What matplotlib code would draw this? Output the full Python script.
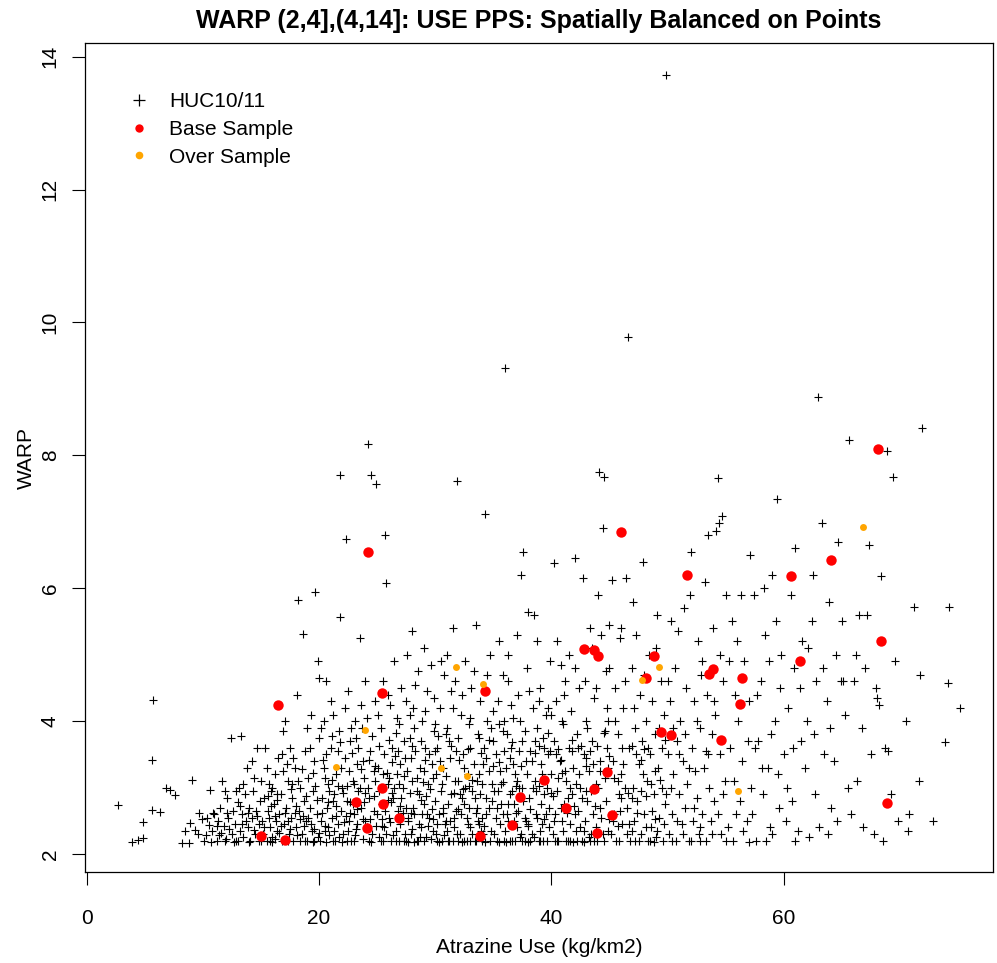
import numpy as np
from matplotlib import pyplot as plt
from matplotlib.lines import Line2D

plt.rcParams['font.family'] = ['Liberation Sans', 'DejaVu Sans']

title = "WARP (2,4],(4,14]: USE PPS: Spatially Balanced on Points"
x_label = "Atrazine Use (kg/km2)"
y_label = "WARP"
legend_labels = ["HUC10/11", "Base Sample", "Over Sample"]
x_ticks = [0, 20, 40, 60]
y_ticks = [2, 4, 6, 8, 10, 12, 14]

# HUC10/11 points (atrazine use, WARP)
huc_points = [
    (2.7, 2.74), (3.9, 2.18), (4.4, 2.21), (4.9, 2.24), (4.9, 2.48), (5.6, 2.66), (6.3, 2.63), (5.6, 3.41),
    (5.7, 4.32), (6.8, 2.99), (7.2, 2.96), (7.6, 2.89), (8.2, 2.17), (8.8, 2.17), (8.9, 2.47), (9.1, 3.11),
    (9.3, 2.36), (9.6, 2.3), (9.9, 2.52), (9.7, 2.62), (8.5, 2.35),
    # 10-15
    (10.1, 2.2), (10.3, 2.28), (10.5, 2.43), (10.6, 2.97), (10.8, 2.35), (11.0, 2.6), (11.2, 2.19), (11.3, 2.5),
    (11.5, 2.7), (11.6, 2.32), (11.8, 2.42), (12.0, 2.22), (12.1, 2.85), (12.2, 2.55), (12.4, 3.75), (12.5, 2.3),
    (12.6, 2.65), (12.8, 2.45), (12.9, 2.2), (13.0, 2.78), (13.1, 3.0), (13.2, 2.35), (13.3, 3.78), (13.4, 2.6),
    (13.5, 2.25), (13.6, 2.9), (13.7, 2.5), (13.8, 3.3), (13.9, 2.4), (14.0, 2.7), (14.1, 2.2), (14.2, 2.55),
    (14.3, 2.95), (14.4, 3.15), (14.5, 2.3), (14.6, 2.65), (14.7, 3.6), (14.8, 2.45), (14.9, 2.8), (15.0, 3.1),
    (11.9, 2.95), (12.3, 2.38), (13.5, 3.05), (14.2, 3.4), (10.9, 2.62), (11.4, 2.28), (12.7, 2.18), (13.9, 2.62),
    (14.4, 2.36), (10.4, 2.55), (11.7, 3.1), (13.2, 2.72), (14.8, 2.2), (12.9, 2.95),
    # 15-20
    (15.1, 2.5), (15.2, 2.3), (15.3, 2.85), (15.4, 3.6), (15.5, 2.2), (15.6, 2.65), (15.7, 3.05), (15.8, 2.4),
    (15.9, 2.95), (16.0, 2.25), (16.1, 2.75), (16.2, 3.2), (16.3, 2.5), (16.4, 2.35), (16.5, 3.45), (16.6, 2.6),
    (16.7, 2.9), (16.8, 2.2), (16.9, 3.85), (17.0, 2.45), (17.1, 4.0), (17.2, 2.7), (17.3, 3.1), (17.4, 2.3),
    (17.5, 3.6), (17.6, 2.55), (17.7, 2.85), (17.8, 2.2), (17.9, 3.3), (18.0, 2.4), (18.1, 4.4), (18.2, 5.82),
    (18.3, 2.65), (18.4, 3.0), (18.5, 2.3), (18.6, 5.31), (18.7, 2.8), (18.8, 3.55), (18.9, 2.5), (19.0, 2.2),
    (19.1, 3.15), (19.2, 2.7), (19.3, 4.1), (19.4, 2.35), (19.5, 2.95), (19.6, 3.4), (19.7, 5.95), (19.8, 2.6),
    (19.9, 2.25), (20.0, 3.75), (15.3, 2.4), (15.8, 2.2), (16.2, 2.58), (16.6, 2.32), (17.1, 2.62), (17.6, 2.98),
    (18.0, 2.72), (18.4, 2.2), (18.9, 2.88), (19.3, 2.45), (19.7, 3.02), (15.5, 3.3), (16.0, 3.0), (16.9, 3.25),
    (17.5, 2.38), (18.2, 3.1), (18.7, 2.42), (19.2, 3.6), (19.8, 2.82), (15.9, 2.72), (17.3, 2.5), (18.6, 2.58),
    (19.5, 2.18), (16.4, 2.9), (17.8, 3.45), (19.0, 3.9), (16.2, 2.22), (18.1, 2.28), (19.6, 2.38), (20.0, 4.65),
    (19.9, 4.9), (17.7, 3.05), (16.8, 3.5), (15.7, 2.55),
    # 20-25
    (20.1, 2.2), (20.2, 2.5), (20.3, 2.85), (20.4, 3.3), (20.5, 2.35), (20.6, 4.6), (20.7, 2.7), (20.8, 3.05),
    (20.9, 2.28), (21.0, 3.6), (21.1, 2.55), (21.2, 4.1), (21.3, 2.9), (21.4, 2.2), (21.5, 3.2), (21.6, 2.45),
    (21.7, 3.85), (21.8, 7.70), (21.8, 5.57), (21.9, 2.65), (22.0, 3.0), (22.1, 2.3), (22.2, 3.45), (22.3, 6.74),
    (22.4, 2.8), (22.5, 4.45), (22.6, 2.5), (22.7, 3.7), (22.8, 2.2), (22.9, 3.1), (23.0, 2.6), (23.1, 4.0),
    (23.2, 2.38), (23.3, 3.35), (23.4, 2.95), (23.5, 5.25), (23.6, 2.7), (23.7, 3.9), (23.8, 2.22), (23.9, 3.15),
    (24.0, 2.5), (24.1, 4.05), (24.2, 8.17), (24.3, 2.85), (24.4, 3.55), (24.5, 7.70), (24.6, 2.3), (24.7, 3.25),
    (24.8, 4.3), (24.9, 7.57), (25.0, 2.6), (20.2, 3.9), (20.5, 3.15), (20.9, 2.95), (21.3, 2.35), (21.6, 3.55),
    (22.0, 2.18), (22.3, 2.58), (22.6, 3.25), (23.0, 3.05), (23.3, 2.45), (23.6, 4.25), (23.9, 2.78), (24.3, 2.2),
    (24.6, 3.78), (24.9, 2.42), (20.3, 2.62), (20.8, 2.4), (21.2, 2.8), (21.7, 2.25), (22.1, 2.92), (22.5, 2.35),
    (22.9, 2.75), (23.4, 3.6), (23.8, 3.4), (24.2, 3.0), (24.7, 2.65), (20.6, 3.5), (21.0, 4.3), (21.5, 2.72),
    (22.2, 4.2), (22.8, 3.9), (23.5, 3.0), (24.1, 2.4), (24.8, 3.1), (20.0, 2.32), (21.9, 3.3), (23.1, 2.28),
    (24.4, 2.52), (21.1, 3.78), (22.7, 2.62), (24.0, 4.6), (23.2, 3.75), (20.4, 4.0),
    # 25-30
    (25.1, 3.3), (25.2, 2.25), (25.3, 3.9), (25.4, 2.75), (25.5, 4.6), (25.6, 2.4), (25.7, 6.80), (25.8, 6.08),
    (25.9, 3.05), (26.0, 2.55), (26.1, 4.25), (26.2, 2.2), (26.3, 3.6), (26.4, 2.85), (26.5, 4.9), (26.6, 2.35),
    (26.7, 3.2), (26.8, 2.65), (26.9, 3.95), (27.0, 2.45), (27.1, 4.5), (27.2, 3.0), (27.3, 2.2), (27.4, 3.45),
    (27.5, 2.7), (27.6, 5.0), (27.7, 2.5), (27.8, 3.75), (27.9, 2.3), (28.0, 3.1), (28.1, 4.2), (28.2, 2.6),
    (28.3, 3.55), (28.4, 2.2), (28.5, 4.75), (28.6, 2.9), (28.7, 3.3), (28.8, 2.4), (28.9, 4.0), (29.0, 2.75),
    (29.1, 3.6), (29.2, 2.25), (29.3, 4.45), (29.4, 3.05), (29.5, 2.55), (29.6, 4.85), (29.7, 3.35), (29.8, 2.35),
    (29.9, 3.85), (30.0, 2.8), (25.2, 2.95), (25.6, 3.5), (26.0, 3.15), (26.4, 2.28), (26.8, 3.55), (27.2, 2.62),
    (27.6, 3.25), (28.0, 2.38), (28.4, 2.95), (28.8, 3.7), (29.2, 2.88), (29.6, 2.22), (25.4, 2.52), (25.8, 2.3),
    (26.2, 2.78), (26.6, 3.82), (27.0, 3.35), (27.4, 2.3), (27.8, 2.92), (28.2, 3.9), (28.6, 2.45), (29.0, 3.25),
    (29.4, 2.42), (29.8, 3.15), (25.1, 4.1), (25.9, 4.4), (26.7, 4.05), (27.5, 4.3), (28.3, 4.55), (29.1, 4.15),
    (29.9, 4.35), (25.3, 2.2), (26.1, 2.48), (26.9, 2.2), (27.7, 2.18), (28.5, 2.2), (29.3, 2.6), (25.7, 2.65),
    (26.5, 3.0), (27.3, 3.7), (28.1, 2.7), (28.9, 2.6), (29.7, 2.68), (25.5, 3.2), (26.3, 3.38), (27.1, 2.85),
    (27.9, 3.45), (28.7, 2.25), (29.5, 3.5), (26.0, 3.72), (27.8, 4.1), (29.0, 5.1), (28.0, 5.35),
    # 30-35
    (30.1, 2.3), (30.2, 3.6), (30.3, 2.6), (30.4, 4.2), (30.5, 2.95), (30.6, 2.2), (30.7, 3.3), (30.8, 4.7),
    (30.9, 2.5), (31.0, 3.9), (31.1, 2.75), (31.2, 2.2), (31.3, 3.45), (31.4, 4.45), (31.5, 5.4), (31.6, 2.4),
    (31.7, 3.1), (31.8, 2.65), (31.9, 7.61), (32.0, 3.75), (32.1, 2.3), (32.2, 4.1), (32.3, 2.85), (32.4, 3.5),
    (32.5, 2.2), (32.6, 4.9), (32.7, 2.55), (32.8, 3.2), (32.9, 3.95), (33.0, 2.4), (33.1, 4.5), (33.2, 2.95),
    (33.3, 3.35), (33.4, 2.2), (33.5, 5.45), (33.6, 2.7), (33.7, 3.8), (33.8, 2.45), (33.9, 4.3), (34.0, 3.05),
    (34.1, 2.3), (34.2, 3.6), (34.3, 7.12), (34.4, 2.6), (34.5, 4.7), (34.6, 3.25), (34.7, 2.2), (34.8, 3.9),
    (34.9, 2.8), (35.0, 4.15), (30.2, 2.45), (30.6, 3.05), (31.0, 2.35), (31.4, 2.9), (31.8, 3.55), (32.2, 2.6),
    (32.6, 3.0), (33.0, 3.6), (33.4, 2.85), (33.8, 3.2), (34.2, 2.42), (34.6, 2.7), (30.4, 3.4), (30.8, 2.28),
    (31.2, 3.7), (31.6, 2.55), (32.0, 2.2), (32.4, 2.98), (32.8, 2.45), (33.2, 2.3), (33.6, 3.1), (34.0, 2.55),
    (34.4, 3.45), (34.8, 2.35), (30.0, 3.95), (30.9, 3.8), (31.5, 4.2), (32.3, 4.4), (33.0, 4.05), (33.8, 3.75),
    (34.5, 4.0), (30.3, 2.18), (31.1, 2.2), (31.9, 2.3), (32.7, 2.2), (33.5, 2.2), (34.3, 2.18), (30.7, 2.7),
    (31.3, 2.5), (32.1, 2.9), (32.9, 2.7), (33.7, 2.5), (34.9, 3.05), (30.5, 4.9), (31.7, 4.6), (33.3, 4.75),
    (34.7, 5.0), (31.0, 5.0), (32.5, 3.3), (34.1, 3.35), (30.1, 3.2), (32.0, 3.1), (33.9, 2.9),
    # 35-40
    (35.1, 2.3), (35.2, 3.5), (35.3, 2.7), (35.4, 4.3), (35.5, 5.2), (35.6, 2.45), (35.7, 3.05), (35.8, 3.85),
    (35.9, 2.2), (36.0, 9.31), (36.1, 3.3), (36.2, 2.6), (36.3, 4.6), (36.4, 2.9), (36.5, 3.6), (36.6, 2.2),
    (36.7, 4.05), (36.8, 2.75), (36.9, 3.2), (37.0, 2.4), (37.1, 4.4), (37.2, 3.0), (37.3, 2.25), (37.4, 6.2),
    (37.5, 3.7), (37.6, 6.55), (37.7, 2.55), (37.8, 3.4), (37.9, 4.8), (38.0, 5.65), (38.1, 2.85), (38.2, 3.55),
    (38.3, 2.3), (38.4, 4.2), (38.5, 5.6), (38.6, 3.1), (38.7, 2.6), (38.8, 3.9), (38.9, 2.2), (39.0, 4.5),
    (39.1, 3.35), (39.2, 2.45), (39.3, 3.75), (39.4, 2.9), (39.5, 4.1), (39.6, 2.2), (39.7, 3.5), (39.8, 2.7),
    (39.9, 4.9), (40.0, 3.2), (35.2, 2.55), (35.6, 3.25), (36.0, 2.35), (36.4, 3.45), (36.8, 2.5), (37.2, 3.55),
    (37.6, 2.8), (38.0, 2.45), (38.4, 3.0), (38.8, 2.55), (39.2, 3.2), (39.6, 3.0), (35.4, 2.95), (35.8, 2.6),
    (36.2, 3.8), (36.6, 2.95), (37.0, 3.1), (37.4, 2.3), (37.8, 2.5), (38.2, 2.2), (38.6, 3.7), (39.0, 2.35),
    (39.4, 3.6), (39.8, 2.4), (35.0, 3.7), (35.9, 4.0), (36.5, 4.25), (37.3, 4.0), (38.1, 4.45), (38.9, 4.3),
    (39.7, 4.2), (35.3, 2.2), (36.1, 2.18), (36.9, 2.2), (37.7, 2.2), (38.5, 2.25), (39.3, 2.2), (35.7, 2.75),
    (36.3, 2.5), (37.1, 2.65), (37.9, 3.2), (38.7, 2.95), (39.5, 2.6), (35.5, 3.95), (36.7, 3.35), (37.5, 3.0),
    (38.3, 3.4), (39.1, 2.75), (39.9, 3.55), (40.2, 6.38), (36.3, 5.0), (38.8, 5.2), (35.8, 4.7), (37.0, 5.3),
    # 40-45
    (40.1, 2.3), (40.2, 3.7), (40.3, 2.6), (40.4, 4.3), (40.5, 2.95), (40.6, 2.2), (40.7, 3.4), (40.8, 4.85),
    (40.9, 2.5), (41.0, 3.95), (41.1, 2.75), (41.2, 4.6), (41.3, 3.1), (41.4, 2.2), (41.5, 3.6), (41.6, 2.45),
    (41.7, 4.15), (41.8, 2.9), (41.9, 3.3), (42.0, 6.45), (42.1, 2.35), (42.2, 3.8), (42.3, 2.65), (42.4, 4.5),
    (42.5, 3.0), (42.6, 2.2), (42.7, 6.15), (42.8, 3.5), (42.9, 2.5), (43.0, 4.0), (43.1, 2.8), (43.2, 3.25),
    (43.3, 5.4), (43.4, 2.3), (43.5, 3.7), (43.6, 2.6), (43.7, 4.35), (43.8, 3.05), (43.9, 2.2), (44.0, 5.9),
    (44.1, 7.75), (44.2, 3.4), (44.3, 2.55), (44.4, 6.9), (44.5, 7.67), (44.6, 3.85), (44.7, 2.8), (44.8, 4.2),
    (44.9, 2.35), (45.0, 5.45), (40.2, 2.5), (40.6, 3.15), (41.0, 2.35), (41.4, 2.85), (41.8, 3.55), (42.2, 2.2),
    (42.6, 2.85), (43.0, 3.45), (43.4, 2.95), (43.8, 2.4), (44.2, 2.7), (44.6, 3.15), (40.4, 3.5), (40.8, 2.7),
    (41.2, 3.25), (41.6, 3.0), (42.0, 2.6), (42.4, 3.2), (42.8, 2.35), (43.2, 2.25), (43.6, 3.35), (44.0, 3.0),
    (44.4, 2.3), (44.8, 3.6), (40.0, 4.1), (41.1, 4.4), (42.0, 4.8), (42.9, 4.6), (43.8, 4.5), (44.7, 4.75),
    (40.5, 5.2), (41.5, 5.0), (43.5, 5.1), (44.3, 5.3), (40.9, 4.0), (42.3, 3.6), (43.1, 3.9), (44.9, 4.0),
    (40.3, 2.2), (41.3, 2.2), (42.5, 2.4), (43.7, 2.2), (44.5, 2.2), (41.9, 2.18), (44.9, 3.3),
    # 45-50
    (45.1, 2.3), (45.2, 6.12), (45.3, 3.4), (45.4, 2.6), (45.5, 4.5), (45.6, 2.2), (45.7, 3.8), (45.8, 2.9),
    (45.9, 5.25), (46.0, 3.2), (46.1, 2.45), (46.2, 4.2), (46.4, 6.15), (46.5, 2.7), (46.6, 9.78), (46.7, 3.6),
    (46.8, 2.2), (46.9, 4.8), (47.0, 3.0), (47.1, 2.5), (47.2, 3.9), (47.3, 5.3), (47.4, 2.8), (47.5, 3.35),
    (47.6, 4.4), (47.7, 2.3), (47.8, 3.7), (47.9, 6.4), (48.0, 2.6), (48.1, 4.0), (48.2, 3.1), (48.3, 2.2),
    (48.4, 5.0), (48.5, 3.5), (48.6, 2.4), (48.7, 4.3), (48.8, 2.9), (48.9, 3.8), (49.0, 2.25), (49.1, 5.6),
    (49.2, 3.3), (49.3, 2.55), (49.4, 4.6), (49.5, 3.0), (49.6, 2.2), (49.7, 4.1), (49.8, 2.75), (49.9, 13.72),
    (50.0, 3.5), (45.3, 2.5), (45.7, 3.1), (46.1, 3.6), (46.5, 2.3), (46.9, 2.85), (47.3, 3.5), (47.7, 2.95),
    (48.1, 2.4), (48.5, 2.2), (48.9, 3.25), (49.3, 3.9), (49.7, 2.45), (45.5, 4.0), (45.9, 2.65), (46.3, 3.0),
    (46.7, 2.45), (47.1, 4.2), (47.5, 2.2), (47.9, 3.2), (48.3, 3.6), (48.7, 2.65), (49.1, 2.35), (49.5, 3.6),
    (49.9, 2.9), (45.0, 4.8), (46.0, 5.4), (47.0, 5.8), (48.0, 4.7), (49.0, 5.1), (46.3, 4.6),
    # 50-55
    (50.1, 2.3), (50.2, 4.3), (50.3, 5.5), (50.4, 2.6), (50.5, 3.2), (50.6, 4.8), (50.7, 2.2), (50.8, 3.7),
    (50.9, 5.35), (51.0, 2.9), (51.1, 4.0), (51.2, 2.45), (51.3, 3.4), (51.4, 5.7), (51.5, 2.7), (51.6, 4.5),
    (51.7, 3.05), (51.8, 2.2), (51.9, 5.9), (52.0, 6.55), (52.1, 3.6), (52.2, 2.5), (52.3, 4.3), (52.4, 3.25),
    (52.5, 2.85), (52.6, 5.2), (52.7, 2.3), (52.8, 3.9), (52.9, 4.7), (53.0, 2.6), (53.1, 3.3), (53.2, 6.1),
    (53.3, 2.2), (53.4, 4.4), (53.5, 6.8), (53.6, 3.0), (53.7, 2.5), (53.8, 3.8), (53.9, 5.4), (54.0, 2.8),
    (54.1, 4.1), (54.2, 6.86), (54.3, 7.66), (54.4, 6.98), (54.5, 3.5), (54.6, 2.3), (54.7, 7.09), (54.8, 4.6),
    (54.9, 3.1), (55.0, 5.9), (50.3, 3.0), (50.8, 2.5), (51.3, 2.3), (51.8, 3.3), (52.3, 2.7), (52.8, 2.4),
    (53.3, 3.55), (53.8, 2.3), (54.3, 2.6), (54.8, 2.9), (50.5, 3.9), (51.0, 3.5), (51.5, 3.8), (52.0, 2.2),
    (52.5, 4.0), (53.0, 4.9), (53.5, 3.5), (54.0, 4.3), (54.5, 5.0), (50.0, 4.6),
    # 55-60
    (55.2, 2.4), (55.4, 3.6), (55.6, 2.2), (55.8, 4.4), (56.0, 5.2), (56.2, 2.8), (56.4, 3.4), (56.6, 4.9),
    (56.8, 2.5), (57.0, 4.3), (57.2, 3.0), (57.4, 5.9), (57.6, 2.2), (57.8, 3.7), (58.0, 4.6), (58.2, 2.9),
    (58.4, 5.3), (58.6, 3.3), (58.8, 2.4), (59.0, 6.2), (59.2, 4.0), (59.4, 7.34), (59.6, 2.7), (59.8, 5.0),
    (60.0, 3.5), (55.3, 4.9), (55.7, 3.1), (56.1, 4.0), (56.5, 2.35), (56.9, 3.7), (57.3, 2.6), (57.7, 4.4),
    (58.1, 3.3), (58.5, 2.2), (58.9, 3.8), (59.3, 5.5), (59.7, 4.5), (55.5, 5.5), (56.3, 5.9), (57.1, 6.5),
    (58.3, 6.0), (59.0, 2.3), (55.9, 2.6), (57.5, 3.6), (58.7, 4.9), (59.5, 3.2),
    # 60-65
    (60.2, 2.5), (60.4, 4.2), (60.6, 5.9), (60.8, 3.6), (61.0, 6.6), (61.2, 2.35), (61.4, 4.5), (61.6, 5.2),
    (61.8, 3.3), (62.0, 4.0), (62.2, 2.25), (62.4, 5.5), (62.6, 3.8), (62.8, 4.6), (62.9, 8.88), (63.0, 2.4),
    (63.3, 6.98), (63.5, 3.5), (63.7, 4.3), (63.9, 5.8), (64.1, 2.7), (64.3, 3.4), (64.5, 5.0), (64.7, 6.7),
    (64.9, 4.6), (60.3, 3.0), (60.9, 4.8), (61.5, 3.7), (62.1, 5.1), (62.7, 2.9), (63.4, 4.8), (64.0, 3.9),
    (64.6, 2.5), (65.0, 5.5), (61.0, 2.2), (63.8, 2.3), (62.5, 6.2), (60.7, 2.8),
    # 65-76
    (65.3, 4.1), (65.6, 8.23), (65.8, 2.6), (66.0, 4.6), (66.3, 3.1), (66.5, 5.6), (66.8, 2.4), (67.0, 4.8),
    (67.3, 6.65), (67.5, 3.5), (67.8, 2.3), (68.0, 4.35), (68.2, 4.25), (68.4, 6.18), (68.7, 3.6), (68.9, 8.07),
    (69.0, 3.55), (69.2, 2.9), (69.4, 7.67), (69.6, 4.9), (65.5, 3.0), (66.2, 5.0), (67.2, 5.6), (68.5, 2.2),
    (69.8, 2.5), (66.7, 3.9), (65.1, 4.6), (67.9, 4.5),
    (71.2, 5.72), (74.2, 5.72), (74.1, 4.57), (75.2, 4.2), (73.9, 3.68), (71.6, 3.1), (70.7, 2.35), (71.9, 8.41),
    (70.5, 4.0), (70.8, 2.6), (71.7, 4.7), (72.8, 2.5),
    # bottom row near the floor
    (10.7, 2.18), (11.9, 2.2), (13.0, 2.19), (14.0, 2.18), (15.0, 2.2), (16.0, 2.18), (17.3, 2.19), (18.8, 2.2),
    (19.6, 2.19), (20.6, 2.18), (21.2, 2.2), (22.4, 2.19), (23.0, 2.2), (24.5, 2.18), (25.5, 2.19), (26.6, 2.2),
    (27.5, 2.2), (28.2, 2.18), (29.0, 2.19), (30.2, 2.2), (31.5, 2.19), (32.3, 2.18), (33.0, 2.2), (34.0, 2.19),
    (35.5, 2.18), (36.4, 2.2), (37.5, 2.19), (38.0, 2.18), (39.0, 2.2), (40.5, 2.19), (41.6, 2.2), (42.8, 2.18),
    (43.3, 2.2), (45.8, 2.19), (47.2, 2.2), (48.8, 2.18), (50.4, 2.2), (52.8, 2.19), (55.0, 2.2), (57.0, 2.18),
    # dense core
    (20.35, 3.42), (20.75, 2.78), (21.15, 3.12), (21.45, 2.58), (21.85, 3.68), (22.15, 2.48), (22.45, 3.02),
    (22.85, 3.52), (23.25, 2.68), (23.65, 3.28), (23.95, 2.92), (24.35, 3.42), (24.75, 2.88), (25.15, 3.62),
    (25.45, 2.42), (25.85, 3.22), (26.25, 2.92), (26.55, 3.48), (26.95, 2.72), (27.35, 3.18), (27.65, 2.55),
    (28.05, 3.62), (28.45, 3.15), (28.75, 2.82), (29.15, 3.42), (29.55, 2.98), (29.85, 2.52), (30.25, 3.78),
    (30.65, 2.62), (30.95, 3.18), (31.35, 3.62), (31.65, 2.92), (32.05, 3.42), (32.45, 2.75), (32.85, 3.58),
    (33.15, 3.12), (33.55, 2.62), (33.95, 3.52), (34.35, 2.85), (34.65, 3.72), (35.05, 2.95), (35.45, 3.38),
    (35.85, 3.08), (36.25, 2.75), (36.65, 3.68), (36.95, 2.62), (37.35, 3.32), (37.75, 3.85), (38.15, 2.68),
    (38.55, 3.52), (38.95, 3.02), (39.35, 2.52), (39.75, 3.82), (40.15, 2.88), (40.55, 3.58), (40.95, 3.22),
    (41.35, 2.62), (41.75, 3.72), (42.15, 3.05), (42.55, 3.62), (42.95, 2.95), (43.35, 3.55), (43.75, 2.72),
    (44.15, 3.25), (44.55, 3.82), (44.95, 2.52), (45.35, 3.15), (45.75, 2.42), (46.15, 3.35), (46.55, 2.92),
    (46.95, 3.62), (47.35, 2.62), (47.75, 3.42), (48.15, 2.88), (48.55, 3.05), (48.95, 2.52), (49.35, 3.12),
    (49.75, 3.72), (20.55, 2.42), (21.65, 3.02), (22.65, 2.78), (23.75, 2.52), (24.85, 3.32), (25.95, 2.82),
    (26.85, 3.05), (27.95, 2.62), (28.95, 3.08), (29.95, 3.55), (30.85, 2.45), (31.95, 2.68), (32.95, 3.02),
    (33.95, 2.35), (34.95, 3.32), (35.95, 3.55), (36.95, 3.02), (37.95, 2.42), (38.95, 3.62), (39.95, 2.92),
    (40.85, 3.42), (41.95, 2.72), (42.95, 3.32), (43.95, 3.62), (44.95, 3.48), (45.95, 2.85), (46.95, 2.35),
    (47.95, 3.58), (16.35, 2.82), (17.25, 3.35), (18.35, 2.52), (19.45, 3.22), (15.65, 2.88), (17.95, 2.62),
    (19.05, 2.55), (16.75, 2.42), (18.55, 3.28), (14.65, 2.58), (13.35, 2.45), (12.05, 2.62), (11.25, 2.42),
]
huc_x, huc_y = zip(*huc_points)

base_x = [16.5, 24.2, 25.4, 34.3, 46.0, 51.7, 42.8, 43.7, 44.0, 48.8, 48.1, 53.9, 53.6, 56.4, 56.2, 60.6,
          64.1, 68.1, 68.4, 61.4, 49.4, 50.3, 54.6, 43.7, 45.2, 43.9, 44.8, 39.4, 37.3, 41.3, 36.6, 33.9,
          23.2, 24.1, 25.5, 25.4, 26.9, 15.0, 17.1, 68.9]
base_y = [4.24, 6.55, 4.42, 4.45, 6.85, 6.20, 5.09, 5.07, 4.98, 4.98, 4.65, 4.78, 4.71, 4.65, 4.26, 6.18,
          6.43, 8.10, 5.21, 4.90, 3.84, 3.79, 3.72, 2.98, 2.59, 2.32, 3.23, 3.11, 2.86, 2.69, 2.44, 2.27,
          2.78, 2.39, 2.75, 3.00, 2.54, 2.27, 2.21, 2.77]

over_x = [31.8, 24.0, 21.5, 30.5, 32.7, 34.1, 47.8, 49.3, 66.8, 56.1]
over_y = [4.81, 3.87, 3.31, 3.29, 3.17, 4.56, 4.62, 4.81, 6.92, 2.95]

fig = plt.figure(figsize=(9.97, 9.63), dpi=100)
ax = fig.add_axes([0.0856, 0.0945, 0.9104, 0.8605])

ax.plot(huc_x, huc_y, linestyle='none', marker='+', color='black',
        markersize=6, markeredgewidth=0.8)
ax.plot(base_x, base_y, linestyle='none', marker='o', color='red',
        markersize=7.5, markeredgewidth=0)
ax.plot(over_x, over_y, linestyle='none', marker='o', color='orange',
        markersize=5, markeredgewidth=0)

ax.set_xlim(-0.1, 78.0)
ax.set_ylim(1.73, 14.2)
ax.set_xticks(x_ticks)
ax.set_yticks(y_ticks)
ax.tick_params(direction='out', length=9.4, width=0.8, labelsize=15)
ax.tick_params(axis='x', pad=17)
ax.tick_params(axis='y', pad=9)
for lab in ax.get_yticklabels():
    lab.set_rotation(90)
    lab.set_va('center')
for sp in ax.spines.values():
    sp.set_linewidth(0.9)

ax.set_xlabel(x_label, fontsize=15)
ax.set_ylabel(y_label, fontsize=15)
ax.xaxis.set_label_coords(0.5, -0.08)
ax.yaxis.set_label_coords(-0.054, 0.5)
ax.set_title(title, fontsize=18, fontweight='bold', pad=11)

handles = [
    Line2D([], [], linestyle='none', marker='+', color='black', markersize=9, markeredgewidth=0.9),
    Line2D([], [], linestyle='none', marker='o', color='red', markersize=6, markeredgewidth=0),
    Line2D([], [], linestyle='none', marker='o', color='orange', markersize=5.5, markeredgewidth=0),
]
ax.legend(handles, legend_labels, loc='upper left', bbox_to_anchor=(0.0477, 0.941),
          frameon=False, fontsize=15, handlelength=1.0, handletextpad=0.94,
          labelspacing=0.42, borderaxespad=0, borderpad=0)

fig.savefig('out.png', dpi=100)
